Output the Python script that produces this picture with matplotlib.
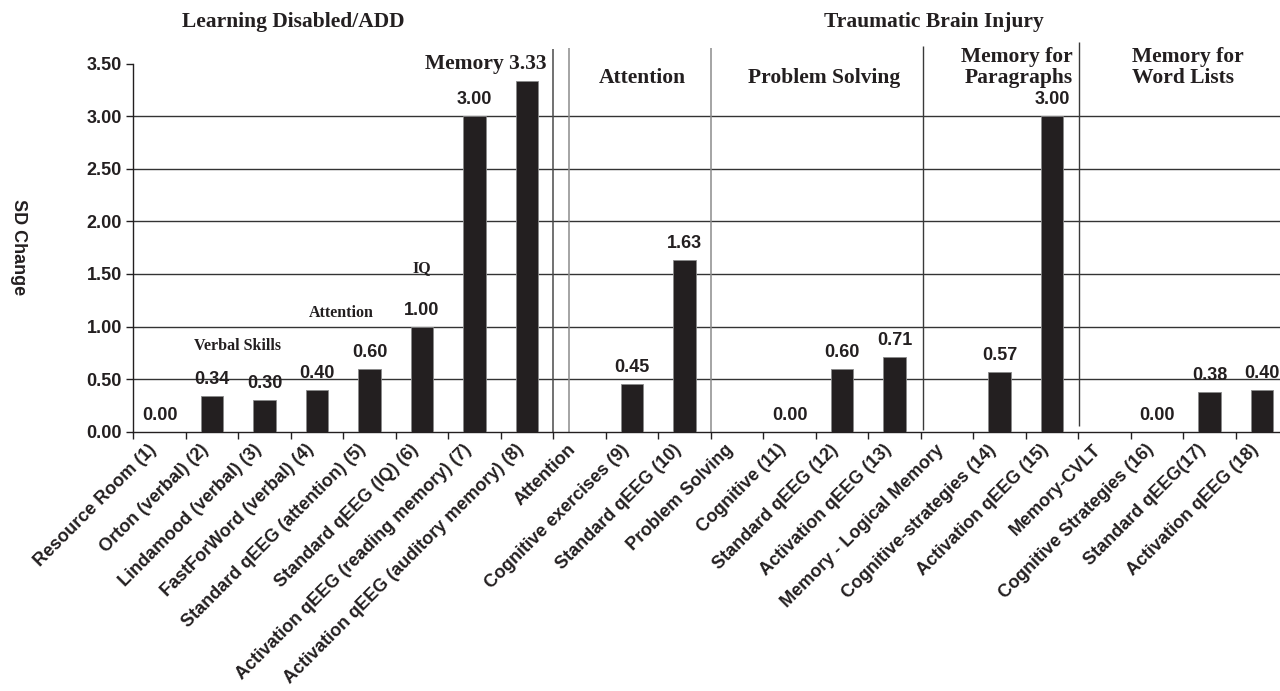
import matplotlib.pyplot as plt
import numpy as np

# categories along the x axis (group header rows have no bar)
categories = [
    "Resource Room (1)", "Orton (verbal) (2)", "Lindamood (verbal) (3)",
    "FastForWord (verbal) (4)", "Standard qEEG (attention) (5)",
    "Standard qEEG (IQ) (6)", "Activation qEEG (reading memory) (7)",
    "Activation qEEG (auditory memory) (8)", "Attention",
    "Cognitive exercises (9)", "Standard qEEG (10)", "Problem Solving",
    "Cognitive (11)", "Standard qEEG (12)", "Activation qEEG (13)",
    "Memory - Logical Memory", "Cognitive-strategies (14)",
    "Activation qEEG (15)", "Memory-CVLT", "Cognitive Strategies (16)",
    "Standard qEEG(17)", "Activation qEEG (18)",
]
sd_change = [0.00, 0.34, 0.30, 0.40, 0.60, 1.00, 3.00, 3.33, None,
             0.45, 1.63, None, 0.00, 0.60, 0.71, None, 0.57, 3.00,
             None, 0.00, 0.38, 0.40]
yticks = [0.0, 0.5, 1.0, 1.5, 2.0, 2.5, 3.0, 3.5]

groups = ["Learning Disabled/ADD", "Traumatic Brain Injury"]
ld_notes = ["Verbal Skills", "Attention", "IQ"]
tbi_sections = ["Attention", "Problem Solving", "Memory for\nParagraphs",
                "Memory for\nWord Lists"]
memory_idx = 7  # its value is printed in the "Memory" heading

ink = "#231f20"
serif = "Liberation Serif"
sans = "Liberation Sans"

fig = plt.figure(figsize=(12.8, 6.91), dpi=100)
W, H = 1280, 691
x0, x1, y0, y1 = 133.3, 1288.3, 431.7, 63.5
ax = fig.add_axes([x0 / W, (H - y0) / H, (x1 - x0) / W, (y0 - y1) / H])

xs = np.arange(len(categories))
bx = [i for i, v in enumerate(sd_change) if v is not None]
bv = [v for v in sd_change if v is not None]
ax.bar(bx, bv, width=0.43, color=ink, edgecolor="#8a8a8a", linewidth=0.6,
       zorder=3)

ax.set_xlim(-0.5, len(categories) - 0.5)
ax.set_ylim(0, 3.5)
for t in yticks[1:-1]:
    ax.axhline(t, color="#333333", lw=1.0, zorder=1)

for s in ["top", "right"]:
    ax.spines[s].set_visible(False)
for s in ["left", "bottom"]:
    ax.spines[s].set_color(ink)
    ax.spines[s].set_linewidth(1.0)

ax.set_yticks(yticks)
ax.set_yticklabels([f"{t:.2f}" for t in yticks], fontsize=13,
                   fontweight="bold", family=sans, color=ink)
ax.tick_params(axis="y", length=5, width=1, color=ink, pad=3.1)

ax.set_xticks(xs)
ax.set_xticks(np.arange(-0.5, len(categories), 1), minor=True)
ax.tick_params(axis="x", which="major", length=0, pad=15.5)
ax.tick_params(axis="x", which="minor", length=5, width=1, color=ink)
ax.set_xticklabels(categories, rotation=45, ha="right", va="bottom",
                   rotation_mode="anchor", fontsize=13, fontweight="bold",
                   family=sans, color=ink)

# value labels
for i, v in enumerate(sd_change):
    if v is None or i == memory_idx:
        continue
    ax.annotate(f"{v:.2f}", (i, v), xytext=(0, 8.6), textcoords="offset points",
                ha="center", va="baseline", fontsize=13, fontweight="bold",
                family=sans, color=ink)

# vertical separators
ax.vlines(7.5, 0, 3.635, color="#4a4a4a", lw=1.1, clip_on=False, zorder=2)
ax.vlines(7.79, 0, 3.65, color="#8c8c8c", lw=1.1, clip_on=False, zorder=2)
ax.vlines(10.5, 0, 3.65, color="#8c8c8c", lw=1.1, clip_on=False, zorder=2)
ax.vlines(14.55, 0.02, 3.67, color="#3a3a3a", lw=1.0, clip_on=False, zorder=2)
ax.vlines(17.52, 0.05, 3.70, color="#3a3a3a", lw=1.0, clip_on=False, zorder=2)

head = dict(family=serif, fontweight="bold", color=ink, fontsize=15.5,
            va="baseline")
ax.text(2.55, 3.85, groups[0], ha="center", **head)
ax.text(14.755, 3.85, groups[1], ha="center", **head)
ax.text(7.374, 3.445, f"Memory {sd_change[memory_idx]:.2f}", ha="right", **head)

ax.text(9.2, 3.312, tbi_sections[0], ha="center", **head)
ax.text(12.66, 3.312, tbi_sections[1], ha="center", **head)
top, bottom = tbi_sections[2].split("\n")
ax.text(17.4, 3.518, top, ha="right", **head)
ax.text(17.4, 3.312, bottom, ha="right", **head)
top, bottom = tbi_sections[3].split("\n")
ax.text(18.52, 3.518, top, ha="left", **head)
ax.text(18.52, 3.312, bottom, ha="left", **head)

note = dict(family=serif, fontweight="bold", color=ink, fontsize=11.5,
            va="baseline", ha="center")
ax.text(1.49, 0.777, ld_notes[0], **note)
ax.text(3.456, 1.093, ld_notes[1], **note)
ax.text(5.0, 1.518, ld_notes[2], **note)

fig.text(18.5 / W, 1 - 247.5 / H, "SD Change", rotation=270, ha="center",
         va="center", fontsize=13, fontweight="bold", family=sans, color=ink)

fig.savefig("out.png", dpi=100)
